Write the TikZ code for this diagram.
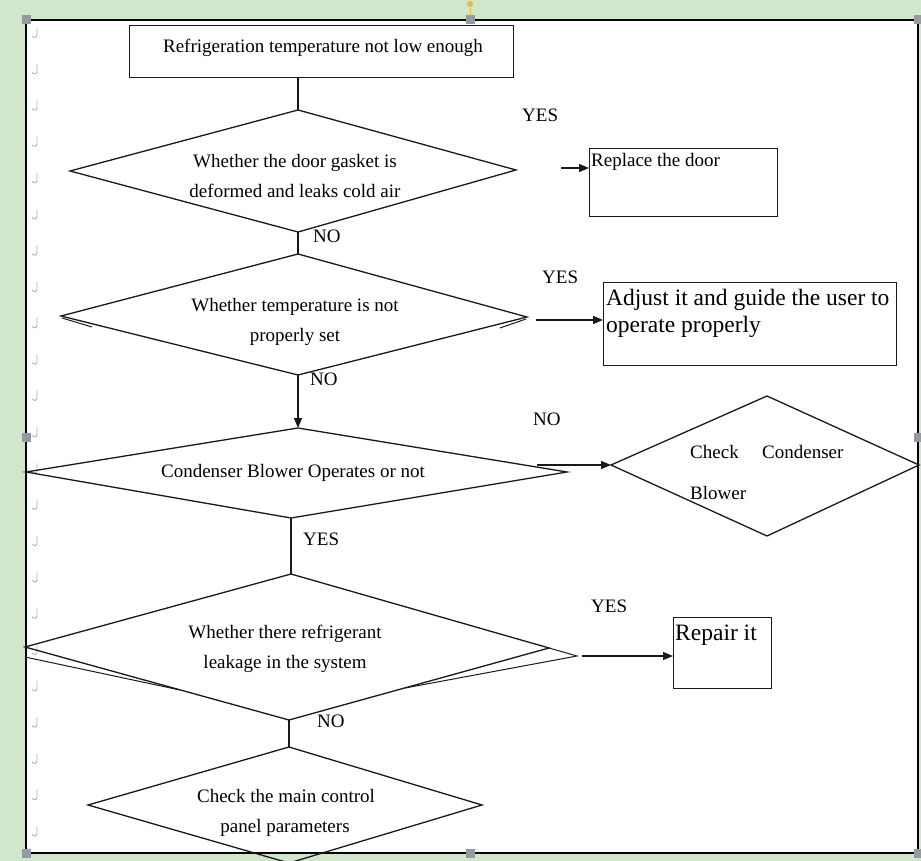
\documentclass[tikz,border=0pt]{standalone}
\usepackage{fontspec}
\setmainfont{Liberation Serif}
\usetikzlibrary{arrows.meta}
\definecolor{bggreen}{RGB}{208,231,203}
\definecolor{handlegray}{RGB}{150,152,162}
\definecolor{rotyellow}{RGB}{232,186,60}
\begin{document}
\begin{tikzpicture}[x=1pt,y=-1pt,
  shapeline/.style={draw=black!90, line width=1.3pt, line join=miter},
  conn/.style={draw=black!90, line width=1.3pt},
  arr/.style={conn, -{Triangle[length=10pt,width=8pt]}},
  boxnode/.style={draw=black!90, line width=1.3pt, inner sep=0pt, anchor=north west},
  lbl/.style={inner sep=0pt, font=\fontsize{19}{22}\selectfont, anchor=base west},
  ctxt/.style={inner sep=0pt, font=\fontsize{19}{22}\selectfont, anchor=base},
  bigtxt/.style={inner sep=0pt, font=\fontsize{23.5}{27}\selectfont, anchor=base west},
  handle/.style={fill=handlegray, draw=none},
  pmark/.style={draw=gray!60, line width=0.9pt, line cap=round},
]
\useasboundingbox (0,0) rectangle (921,861);
\clip (0,0) rectangle (921,861);
% page background and frame
\fill[bggreen] (0,0) rectangle (921,861);
\filldraw[fill=white, draw=black, line width=2.2pt] (26,20) rectangle (918,853);
% paragraph marks along the left edge
\foreach \k in {0,...,22}{
  \draw[pmark] (37,{28+36.3*\k}) -- (37,{35+36.3*\k}) .. controls (37,{38+36.3*\k}) and (34,{38+36.3*\k}) .. (32,{36+36.3*\k});
}

% ---- boxes ----
\node[boxnode, minimum width=384pt, minimum height=52pt] (box1) at (129,25) {};
\node[boxnode, minimum width=188pt, minimum height=68pt] (rep) at (589,148) {};
\node[boxnode, minimum width=293pt, minimum height=83pt] (adj) at (603,282) {};
\node[boxnode, minimum width=98pt, minimum height=71pt] (fix) at (673,617) {};

% ---- diamonds (vertex coordinates) ----
\coordinate (d1t) at (298,110); \coordinate (d1r) at (516,170);
\coordinate (d1b) at (298,232); \coordinate (d1l) at (70,171);
\coordinate (d2t) at (298,254); \coordinate (d2r) at (527,317);
\coordinate (d2b) at (298,375); \coordinate (d2l) at (61,316);
\coordinate (d3t) at (298,428); \coordinate (d3r) at (567,472);
\coordinate (d3b) at (291,518); \coordinate (d3l) at (26,472);
\coordinate (d4t) at (291,574); \coordinate (d4r) at (549,648);
\coordinate (d4b) at (289,720); \coordinate (d4l) at (25,647);
\coordinate (d5t) at (289,747); \coordinate (d5r) at (482,805);
\coordinate (d5b) at (289,863); \coordinate (d5l) at (88,805);
\coordinate (ckt) at (767,396); \coordinate (ckr) at (919,465);
\coordinate (ckb) at (767,536); \coordinate (ckl) at (611,465);

\draw[shapeline] (d1t) -- (d1r) -- (d1b) -- (d1l) -- cycle;
\draw[shapeline] (d2t) -- (d2r) -- (d2b) -- (d2l) -- cycle;
\draw[shapeline] (d3t) -- (d3r) -- (d3b) -- (d3l) -- cycle;
\draw[shapeline] (d4t) -- (d4r) -- (d4b) -- (d4l) -- cycle;
\draw[shapeline] (d5t) -- (d5r) -- (d5b) -- (d5l) -- cycle;
\draw[shapeline] (ckt) -- (ckr) -- (ckb) -- (ckl) -- cycle;
% doubled edges left by the drawing
\draw[conn, line width=1pt] (62,318) -- (92,327);
\draw[conn, line width=1pt] (526,319) -- (500,328);
\draw[conn, line width=1pt] (25,657) -- (180,690);
\draw[conn, line width=1pt] (d4r) -- (577,656) -- (405,688);

% ---- connectors ----
\draw[conn] (box1.south -| d1t) -- (d1t);
\draw[conn] (d1b) -- (d2t);
\draw[arr] (d2b) -- (d3t);
\draw[conn] (d3b) -- (d4t);
\draw[conn] (d4b) -- (d5t);
\coordinate (a1) at (561,168);
\draw[arr] (a1) -- (a1 -| rep.west);
\coordinate (a2) at (536,320);
\draw[arr] (a2) -- (a2 -| adj.west);
\coordinate (a3) at (537,465);
\draw[arr] (a3) -- (ckl);
\coordinate (a4) at (582,656);
\draw[arr] (a4) -- (a4 -| fix.west);

% ---- texts ----
\node[ctxt] (t0) at (323,53) {Refrigeration temperature not low enough};
\node[ctxt] (t1a) at (295,168) {Whether the door gasket is};
\node[ctxt] (t1b) at (295,198) {deformed and leaks cold air};
\node[ctxt] (t2a) at (295,311) {Whether temperature is not};
\node[ctxt] (t2b) at (295,341) {properly set};
\node[ctxt] (t3) at (293,477) {Condenser Blower Operates or not};
\node[ctxt] (t4a) at (285,638) {Whether there refrigerant};
\node[ctxt] (t4b) at (285,668) {leakage in the system};
\node[ctxt] (t5a) at (286,802) {Check the main control};
\node[ctxt] (t5b) at (285,832) {panel parameters};
\node[lbl] (trep) at (591,167) {Replace the door};
\node[bigtxt] (tadj1) at (606,305) {Adjust it and guide the user to};
\node[bigtxt] (tadj2) at (606,332) {operate properly};
\node[bigtxt] (tfix) at (675,640) {Repair it};
\node[lbl] (tck1) at (690,458) {Check};
\node[lbl] (tck2) at (762,458) {Condenser};
\node[lbl] (tck3) at (690,499) {Blower};
% branch labels
\node[lbl] (y1) at (522,122) {YES};
\node[lbl] (n1) at (313,243) {NO};
\node[lbl] (y2) at (542,283) {YES};
\node[lbl] (n2) at (310,385) {NO};
\node[lbl] (n3) at (533,425) {NO};
\node[lbl] (y3) at (303,545) {YES};
\node[lbl] (y4) at (591,612) {YES};
\node[lbl] (n4) at (317,727) {NO};

% ---- selection handles ----
\foreach \hx/\hy in {26/20,470/20,918/20,26/437,918/437,26/853,470/853,918/853}{
  \fill[handle] (\hx-4.5,\hy-4.5) rectangle (\hx+4.5,\hy+4.5);
}
\draw[rotyellow, line width=1pt] (470,8) -- (470,16);
\fill[rotyellow] (470,4) circle (3pt);
\end{tikzpicture}
\end{document}
